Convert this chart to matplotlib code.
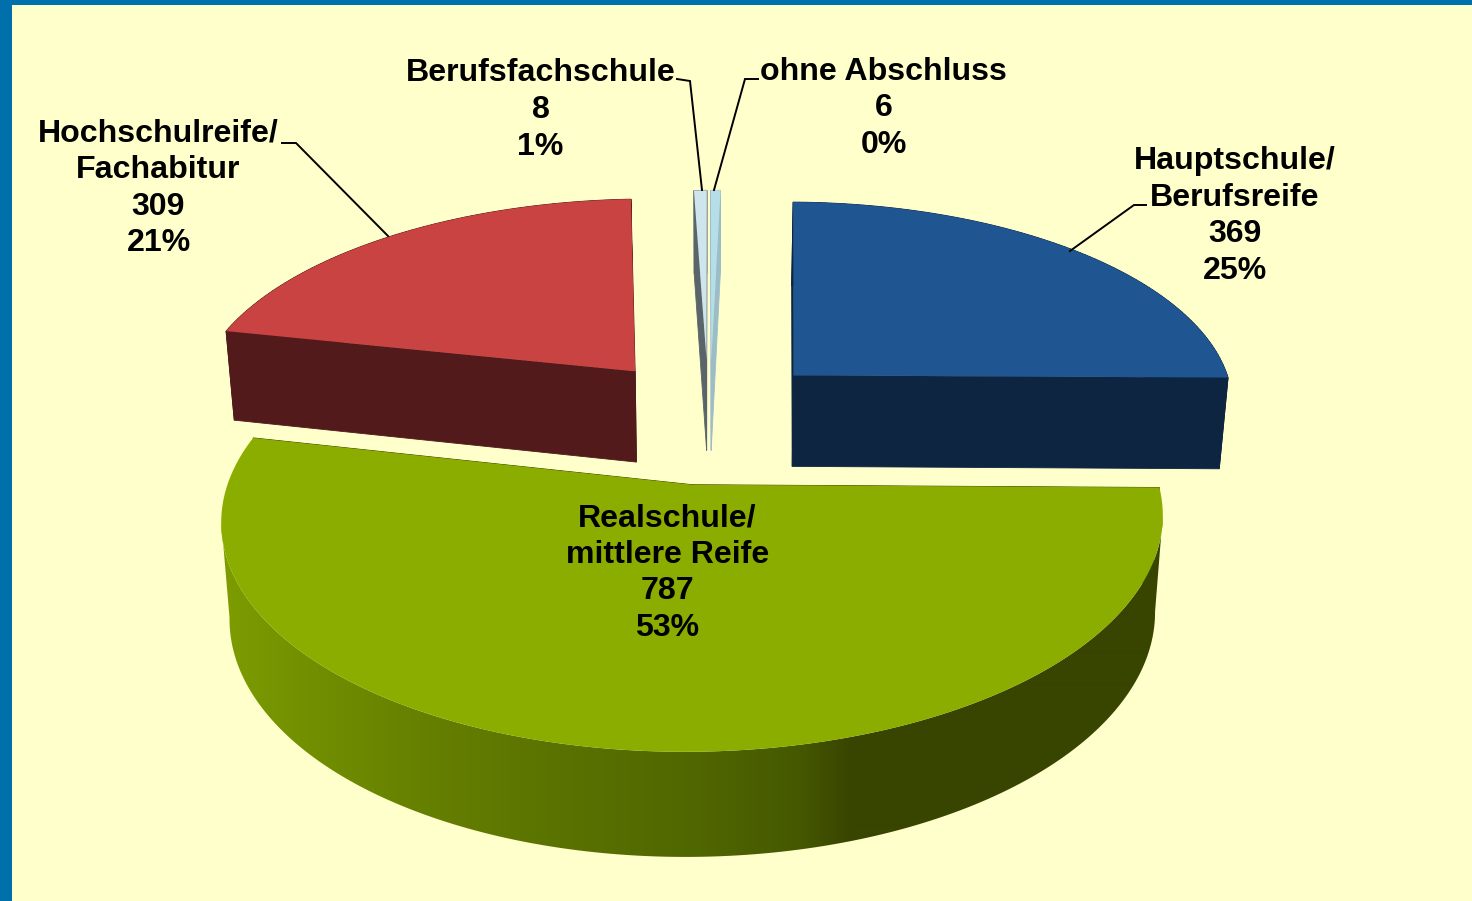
import numpy as np
import matplotlib
matplotlib.use('Agg')
import matplotlib.pyplot as plt
from matplotlib.patches import Polygon, Rectangle

plt.rcParams['font.family'] = ['Liberation Sans', 'DejaVu Sans']

# Daten, im Uhrzeigersinn ab 12 Uhr
kategorien = ['ohne Abschluss', 'Hauptschule/\nBerufsreife', 'Realschule/\nmittlere Reife',
              'Hochschulreife/\nFachabitur', 'Berufsfachschule']
werte = [6, 369, 787, 309, 8]

# Aussehen der Segmente
explode = [0.26, 0.26, 0.337, 0.265, 0.26]
breite = [0.997, 0.993, 0.993, 1, 1]
farbe_oben = ['#B5DEE7', '#1F5591', '#8AAD00', '#C94343', '#CFE5EE']
farbe_wand = ['#9CBDC7', '#0D2540', '#384500', '#521A1A', '#5A6569']
zeichen_reihenfolge = [4, 0, 3, 1, 2]
label_pos = [(883.5, 108.5), (1234.5, 216), (667.5, 573), (158.5, 188.5), (540.5, 110)]

# Verlauf der Aussenwand vom gruenen Segment (Bildschirm-x -> Farbe)
verlauf_x = [225, 300, 420, 560, 700, 800, 850, 1170]
verlauf_r = [0x7D, 0x73, 0x66, 0x5A, 0x50, 0x45, 0x38, 0x38]
verlauf_g = [0x9C, 0x90, 0x80, 0x72, 0x66, 0x58, 0x45, 0x45]

# Fuehrungslinien
linien = [[(758, 79), (745, 79), (714, 190)],
          [(677, 79), (690, 81), (702, 190)],
          [(282, 143), (296, 143), (388, 236)],
          [(1146, 205), (1134, 205), (1070, 251)]]

# Perspektive
X0, Y0, F, A, K = 708.5, 412.0, 447.0, 207.0, 0.14
WAND, K_WAND, SCHRUMPF, ROLL = 92.5, 0.09, 0.983, 0.005


def projektion(x, y):
    w = 1 + K * y
    sx = X0 + F * x / w
    return sx, Y0 - A * y / w - ROLL * (sx - X0)


def unten(x, y):
    sx, sy = projektion(x, y)
    return X0 + (sx - X0) * SCHRUMPF, sy + WAND / (1 + K_WAND * y)


def viereck(ax, a, b, c, d, farbe, zorder):
    ax.add_patch(Polygon([a, b, c, d], closed=True, facecolor=farbe, edgecolor=farbe,
                         linewidth=0.6, zorder=zorder))


def kante_aussen(punkte):
    # Nur das Stueck der Kante zwischen rechtestem und linkestem Punkt
    xs = [p[0] for p in punkte]
    return punkte[int(np.argmax(xs)):int(np.argmin(xs)) + 1]


fig = plt.figure(figsize=(14.72, 9.01), dpi=100)
ax = fig.add_axes([0, 0, 1, 1])
ax.axis('off')

ax.add_patch(Rectangle((0, 0), 1472, 901, facecolor='#0070AD', edgecolor='none', zorder=0))
ax.add_patch(Rectangle((12, 5), 1460, 896, facecolor='#FFFFCC', edgecolor='none', zorder=1))

gesamt = sum(werte)
grenzen = np.concatenate([[0], np.cumsum(werte)]) / gesamt * 2 * np.pi

z = 2
for i in zeichen_reihenfolge:
    t = np.linspace(grenzen[i], grenzen[i + 1], max(4, int((grenzen[i + 1] - grenzen[i]) * 60)))
    mitte = (grenzen[i] + grenzen[i + 1]) / 2
    ex = explode[i] * np.sin(mitte) + 1 - breite[i]
    ey = explode[i] * np.cos(mitte)
    bx, by = ex + breite[i] * np.sin(t), ey + np.cos(t)

    # Schnittflaechen
    for k in (0, -1):
        viereck(ax, projektion(ex, ey), projektion(bx[k], by[k]), unten(bx[k], by[k]), unten(ex, ey),
                farbe_wand[i], z)
    z += 1

    # Aussenwand, beim gruenen Segment als Verlauf
    if i == 2:
        oben_kante = kante_aussen([projektion(u, v) for u, v in zip(bx, by)])
        unten_kante = kante_aussen([unten(u, v) for u, v in zip(bx, by)])
        wand = Polygon(oben_kante + unten_kante[::-1], closed=True, transform=ax.transData,
                       facecolor='none', edgecolor='none')
        ax.add_patch(wand)
        xs = np.arange(200, 1200)
        bild = np.zeros((1, len(xs), 3))
        bild[0, :, 0] = np.interp(xs, verlauf_x, verlauf_r) / 255
        bild[0, :, 1] = np.interp(xs, verlauf_x, verlauf_g) / 255
        im = ax.imshow(bild, extent=(200, 1200, 901, 400), aspect='auto', zorder=z, interpolation='bilinear')
        im.set_clip_path(wand)
    else:
        for k in range(len(t) - 1):
            viereck(ax, projektion(bx[k], by[k]), projektion(bx[k + 1], by[k + 1]),
                    unten(bx[k + 1], by[k + 1]), unten(bx[k], by[k]), farbe_wand[i], z)
    z += 1

    # Deckflaeche
    punkte = [projektion(ex, ey)] + [projektion(u, v) for u, v in zip(bx, by)]
    ax.add_patch(Polygon(punkte, closed=True, facecolor=farbe_oben[i], edgecolor='none', zorder=z))
    z += 1

for linie in linien:
    ax.plot([p[0] for p in linie], [p[1] for p in linie], color='black', linewidth=1.4, zorder=z,
            solid_joinstyle='miter')

for name, wert, pos in zip(kategorien, werte, label_pos):
    ax.text(pos[0], pos[1], f'{name}\n{wert}\n{round(wert / gesamt * 100)}%', ha='center', va='center',
            fontsize=23.1, fontweight='bold', color='black', linespacing=1.285, zorder=z + 1)

ax.set_xlim(0, 1472)
ax.set_ylim(901, 0)

fig.savefig('out.png', dpi=100)
